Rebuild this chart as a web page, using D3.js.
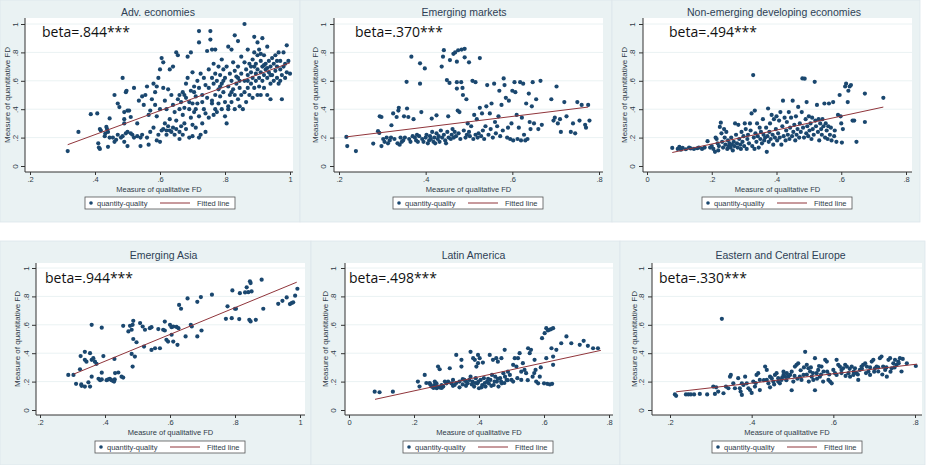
<!DOCTYPE html>
<html>
<head>
<meta charset="utf-8">
<script src="https://cdn.jsdelivr.net/npm/d3@7/dist/d3.min.js"></script>
<style>
body { margin:0; background:#fff; }
svg { display:block; font-family:"Liberation Sans", Arial, sans-serif; }
</style>
</head>
<body>
<div id="chart"></div>
<script>
// chart values
var titles = ["Adv. economies", "Emerging markets", "Non-emerging developing economies",
              "Emerging Asia", "Latin America", "Eastern and Central Europe"];
var betas = ["beta=.844***", "beta=.370***", "beta=.494***", "beta=.944***", "beta=.498***", "beta=.330***"];
var xDomains = [[0.2, 1], [0.2, 0.8], [0, 0.8], [0.2, 1], [0, 0.8], [0.2, 0.8]];
var xTicks = [[0.2, 0.4, 0.6, 0.8, 1], [0.2, 0.4, 0.6, 0.8], [0, 0.2, 0.4, 0.6, 0.8],
              [0.2, 0.4, 0.6, 0.8, 1], [0, 0.2, 0.4, 0.6, 0.8], [0.2, 0.4, 0.6, 0.8]];
var yTicks = [0, 0.2, 0.4, 0.6, 0.8, 1];
var xLabel = "Measure of qualitative FD";
var yLabel = "Measure of quantitative FD";
var legendLabels = ["quantity-quality", "Fitted line"];

// fitted line end points [x, y]
var fitLines = [
  [[0.316, 0.150], [1.0, 0.727]],
  [[0.217, 0.205], [0.775, 0.415]],
  [[0.078, 0.095], [0.730, 0.415]],
  [[0.303, 0.252], [0.990, 0.900]],
  [[0.080, 0.075], [0.775, 0.420]],
  [[0.215, 0.128], [0.805, 0.323]]
];

var advPts = [
  [0.316,0.105],[0.349,0.24],[0.387,0.365],[0.407,0.37],[0.41,0.16],[0.412,0.13],[0.415,0.12],[0.415,0.26],[0.418,0.25],[0.43,0.21],
  [0.432,0.23],[0.437,0.26],[0.44,0.24],[0.445,0.335],[0.44,0.135],[0.435,0.275],[0.445,0.2],
  [0.455,0.2],[0.46,0.5],[0.46,0.17],[0.465,0.185],[0.47,0.44],[0.475,0.415],[0.47,0.22],[0.48,0.2],[0.485,0.62],[0.49,0.3],
  [0.49,0.33],[0.495,0.52],[0.497,0.53],[0.49,0.38],[0.495,0.23],[0.5,0.14],[0.5,0.24],[0.5,0.39],[0.485,0.21],[0.49,0.17],
  [0.505,0.39],[0.51,0.345],[0.51,0.23],[0.515,0.22],[0.52,0.55],[0.52,0.2],[0.53,0.21],[0.53,0.3],[0.535,0.46],[0.54,0.14],
  [0.54,0.2],[0.545,0.49],[0.545,0.22],[0.55,0.43],
  [0.555,0.5],[0.56,0.56],[0.56,0.2],[0.565,0.36],[0.565,0.15],[0.57,0.39],[0.57,0.24],[0.575,0.47],[0.58,0.58],[0.58,0.27],
  [0.585,0.52],[0.585,0.43],[0.59,0.56],[0.59,0.35],[0.595,0.22],[0.595,0.62],[0.6,0.68],[0.6,0.4],[0.6,0.17],[0.59,0.18],
  [0.605,0.76],[0.61,0.73],[0.61,0.55],[0.615,0.46],[0.615,0.3],[0.62,0.22],[0.62,0.4],[0.625,0.54],[0.63,0.25],[0.63,0.68],
  [0.635,0.5],[0.635,0.24],[0.64,0.7],[0.64,0.27],[0.64,0.43],[0.645,0.38],[0.645,0.22],[0.65,0.8],[0.65,0.32],[0.65,0.26],
  [0.655,0.78],[0.655,0.47],[0.66,0.24],[0.66,0.19],[0.66,0.5],[0.605,0.25],[0.61,0.26],[0.62,0.25],[0.625,0.28],[0.63,0.33],
  [0.665,0.45],[0.67,0.52],[0.67,0.36],[0.67,0.22],[0.675,0.41],[0.675,0.3],[0.68,0.58],[0.68,0.48],[0.68,0.26],[0.685,0.77],
  [0.685,0.62],[0.69,0.4],[0.69,0.2],[0.695,0.8],[0.695,0.53],[0.695,0.34],[0.7,0.66],[0.7,0.44],[0.7,0.29],[0.7,0.21],
  [0.705,0.56],[0.66,0.4],[0.665,0.28],[0.69,0.45],[0.675,0.5],
  [0.705,0.38],[0.71,0.49],[0.71,0.27],[0.715,0.6],[0.715,0.44],[0.72,0.95],[0.72,0.87],[0.72,0.55],[0.72,0.35],[0.725,0.22],
  [0.725,0.65],[0.73,0.5],[0.73,0.3],[0.735,0.62],[0.735,0.4],[0.74,0.57],[0.74,0.37],[0.745,0.81],[0.745,0.48],[0.75,0.68],
  [0.75,0.34],[0.75,0.55],[0.73,0.45],[0.71,0.4],[0.74,0.24],[0.72,0.2],[0.705,0.52],
  [0.755,0.95],[0.755,0.89],[0.76,0.82],[0.76,0.62],[0.76,0.44],[0.765,0.72],[0.765,0.58],[0.765,0.36],[0.77,0.82],[0.77,0.65],
  [0.77,0.5],[0.775,0.6],[0.775,0.38],[0.78,0.7],[0.78,0.54],[0.78,0.44],[0.785,0.64],[0.785,0.49],[0.79,0.75],[0.79,0.58],
  [0.79,0.4],[0.795,0.68],[0.795,0.52],[0.8,0.62],[0.8,0.45],[0.8,0.35],[0.76,0.46],[0.77,0.4],[0.785,0.56],[0.795,0.6],
  [0.805,0.3],[0.805,0.7],[0.81,0.84],[0.81,0.56],[0.81,0.42],[0.815,0.65],[0.815,0.5],[0.82,0.82],[0.82,0.6],[0.82,0.45],
  [0.825,0.73],[0.825,0.54],[0.83,0.92],[0.83,0.67],[0.83,0.5],[0.83,0.4],[0.835,0.58],[0.84,0.88],[0.84,0.7],[0.84,0.62],
  [0.84,0.47],[0.845,0.55],[0.845,0.42],[0.85,0.77],[0.85,0.65],[0.85,0.5],[0.81,0.4],[0.82,0.52],[0.835,0.63],[0.845,0.6],
  [0.855,0.4],[0.86,1.0],[0.86,0.73],[0.86,0.6],[0.86,0.52],[0.865,0.68],[0.865,0.45],[0.87,0.82],[0.87,0.64],[0.87,0.55],
  [0.875,0.72],[0.875,0.5],[0.88,0.66],[0.88,0.58],[0.885,0.75],[0.885,0.62],[0.885,0.48],[0.89,0.91],[0.89,0.8],[0.89,0.7],
  [0.89,0.55],[0.895,0.65],[0.895,0.6],[0.9,0.87],[0.9,0.78],[0.9,0.68],[0.9,0.5],[0.87,0.6],[0.88,0.7],[0.895,0.72],
  [0.905,0.62],[0.905,0.56],[0.91,0.74],[0.91,0.66],[0.91,0.5],[0.915,0.9],[0.915,0.7],[0.915,0.6],[0.92,0.78],[0.92,0.64],
  [0.92,0.55],[0.925,0.72],[0.925,0.68],[0.93,0.84],[0.93,0.62],[0.93,0.5],[0.935,0.74],[0.935,0.66],[0.94,0.58],[0.94,0.7],
  [0.94,0.47],[0.945,0.76],[0.945,0.64],[0.95,0.72],[0.95,0.6],[0.91,0.79],[0.92,0.71],[0.93,0.69],[0.905,0.82],[0.94,0.64],
  [0.955,0.78],[0.955,0.67],[0.96,0.62],[0.96,0.7],[0.965,0.8],[0.965,0.58],[0.97,0.68],[0.97,0.74],[0.975,0.47],[0.975,0.64],
  [0.98,0.8],[0.98,0.7],[0.985,0.62],[0.99,0.85],[0.99,0.66],[0.995,0.74],[1.0,0.65],[0.96,0.74],[0.97,0.6],[0.985,0.72]
];

var emPts = [
  [0.217,0.205],[0.219,0.14],[0.239,0.105],[0.279,0.158],[0.29,0.245],[0.293,0.233],[0.294,0.35],[0.298,0.345],[0.298,0.14],[0.302,0.19],
  [0.305,0.17],[0.31,0.2],[0.313,0.16],[0.317,0.18],[0.32,0.2],[0.321,0.287],[0.325,0.37],[0.328,0.19],[0.333,0.345],[0.335,0.16],
  [0.337,0.39],[0.338,0.41],[0.34,0.15],[0.342,0.2],[0.345,0.17],[0.348,0.18],[0.35,0.35],[0.352,0.2],[0.356,0.593],[0.357,0.405],
  [0.36,0.345],[0.362,0.19],[0.365,0.17],[0.367,0.77],[0.37,0.21],[0.372,0.33],[0.375,0.2],[0.378,0.18],[0.38,0.22],[0.382,0.17],
  [0.385,0.21],[0.387,0.723],[0.387,0.58],[0.39,0.38],[0.392,0.19],[0.395,0.17],[0.398,0.687],[0.4,0.2],[0.402,0.22],[0.405,0.16],
  [0.408,0.18],[0.41,0.21],[0.412,0.19],[0.414,0.334],[0.415,0.24],[0.418,0.17],[0.42,0.2],[0.422,0.16],[0.425,0.357],[0.425,0.23],
  [0.428,0.19],[0.43,0.21],[0.432,0.17],[0.435,0.25],[0.437,0.7],[0.438,0.2],[0.44,0.77],[0.442,0.816],[0.442,0.22],[0.445,0.18],
  [0.447,0.16],[0.449,0.605],[0.45,0.24],[0.452,0.35],[0.453,0.2],[0.455,0.585],[0.456,0.746],[0.458,0.19],[0.46,0.22],[0.462,0.26],
  [0.464,0.79],[0.465,0.2],[0.467,0.24],[0.468,0.8],[0.47,0.21],[0.472,0.735],[0.472,0.59],[0.472,0.545],[0.474,0.39],[0.475,0.815],
  [0.476,0.23],[0.478,0.38],[0.48,0.19],[0.482,0.59],[0.483,0.82],[0.485,0.55],[0.486,0.5],[0.488,0.25],[0.49,0.825],[0.49,0.765],
  [0.492,0.2],[0.494,0.47],[0.495,0.22],[0.497,0.3],[0.5,0.73],[0.5,0.24],[0.502,0.21],[0.505,0.28],[0.508,0.6],[0.51,0.19],
  [0.512,0.36],[0.515,0.59],[0.515,0.22],[0.518,0.33],[0.52,0.2],[0.522,0.23],[0.525,0.76],[0.525,0.41],[0.528,0.21],[0.53,0.37],
  [0.532,0.25],[0.535,0.19],[0.538,0.28],[0.54,0.42],[0.542,0.57],[0.545,0.22],[0.548,0.37],[0.55,0.26],[0.552,0.44],[0.555,0.2],
  [0.558,0.58],[0.56,0.31],[0.562,0.23],[0.565,0.28],[0.568,0.35],[0.57,0.53],[0.572,0.21],[0.575,0.43],[0.578,0.25],[0.58,0.617],
  [0.582,0.57],[0.585,0.48],[0.588,0.2],[0.59,0.27],[0.592,0.46],[0.595,0.19],[0.598,0.3],[0.6,0.53],[0.602,0.18],[0.605,0.59],
  [0.607,0.52],[0.61,0.36],[0.612,0.19],[0.615,0.27],[0.618,0.59],[0.62,0.18],[0.622,0.34],[0.625,0.58],[0.627,0.22],[0.63,0.18],
  [0.632,0.44],[0.635,0.19],[0.638,0.51],[0.64,0.31],[0.642,0.26],[0.645,0.42],[0.647,0.59],[0.65,0.3],[0.655,0.47],[0.66,0.26],
  [0.665,0.6],[0.668,0.29],[0.69,0.47],[0.695,0.32],[0.698,0.34],[0.702,0.56],[0.705,0.3],[0.71,0.33],[0.712,0.24],[0.72,0.45],
  [0.725,0.35],[0.735,0.24],[0.74,0.3],[0.745,0.23],[0.75,0.45],[0.755,0.32],[0.76,0.43],[0.768,0.29],[0.77,0.27],[0.775,0.43],
  [0.778,0.32]
];

var nedPts = [
  [0.078,0.127],[0.095,0.12],[0.1,0.135],[0.105,0.115],[0.11,0.128],[0.12,0.118],[0.13,0.13],[0.135,0.124],[0.145,0.12],[0.155,0.125],
  [0.16,0.13],[0.17,0.12],[0.178,0.13],[0.187,0.175],[0.195,0.13],[0.2,0.14],[0.205,0.12],[0.21,0.1],[0.212,0.2],[0.215,0.19],
  [0.218,0.16],[0.22,0.11],[0.222,0.14],[0.225,0.275],[0.228,0.305],[0.23,0.23],[0.232,0.17],[0.235,0.13],[0.238,0.26],[0.24,0.2],
  [0.242,0.15],[0.245,0.24],[0.248,0.12],[0.25,0.18],[0.252,0.14],[0.255,0.16],[0.258,0.13],[0.26,0.2],[0.262,0.15],[0.265,0.11],
  [0.268,0.17],[0.27,0.14],[0.272,0.3],[0.275,0.22],[0.278,0.16],[0.28,0.13],[0.282,0.29],[0.285,0.19],[0.288,0.15],[0.29,0.12],
  [0.292,0.24],[0.295,0.17],[0.298,0.21],[0.3,0.14],[0.302,0.3],[0.305,0.26],[0.308,0.12],[0.31,0.19],[0.312,0.22],[0.315,0.16],
  [0.318,0.3],[0.32,0.25],[0.323,0.37],[0.325,0.14],[0.328,0.64],[0.33,0.2],[0.332,0.12],[0.333,0.39],[0.335,0.23],[0.338,0.17],
  [0.34,0.3],[0.342,0.21],[0.345,0.13],[0.348,0.27],[0.35,0.19],[0.352,0.24],[0.355,0.16],[0.358,0.33],[0.36,0.22],[0.362,0.18],
  [0.365,0.2],[0.368,0.27],[0.37,0.1],[0.372,0.21],[0.374,0.405],[0.376,0.17],[0.378,0.24],[0.38,0.3],[0.382,0.19],[0.385,0.36],
  [0.388,0.22],[0.39,0.15],[0.392,0.33],[0.395,0.2],[0.398,0.26],[0.4,0.35],[0.402,0.18],[0.405,0.23],[0.408,0.32],[0.41,0.2],
  [0.412,0.38],[0.415,0.15],[0.418,0.28],[0.42,0.46],[0.422,0.21],[0.425,0.34],[0.428,0.18],[0.43,0.25],[0.432,0.31],[0.435,0.22],
  [0.438,0.38],[0.44,0.19],[0.442,0.27],[0.445,0.34],[0.448,0.21],[0.45,0.46],[0.452,0.24],[0.455,0.29],[0.458,0.18],[0.46,0.35],
  [0.462,0.22],[0.465,0.26],[0.467,0.416],[0.47,0.2],[0.472,0.3],[0.475,0.24],[0.478,0.38],[0.48,0.617],[0.482,0.27],[0.485,0.2],
  [0.487,0.615],[0.49,0.33],[0.492,0.23],[0.493,0.45],[0.495,0.28],[0.498,0.21],[0.5,0.35],[0.502,0.25],[0.505,0.3],[0.508,0.19],
  [0.51,0.34],[0.512,0.26],[0.515,0.22],[0.518,0.593],[0.52,0.32],[0.522,0.28],[0.525,0.43],[0.528,0.24],[0.53,0.33],[0.532,0.18],
  [0.535,0.3],[0.538,0.26],[0.54,0.22],[0.542,0.33],[0.545,0.28],[0.548,0.44],[0.55,0.2],[0.552,0.3],[0.555,0.25],[0.558,0.19],
  [0.56,0.28],[0.562,0.44],[0.565,0.22],[0.568,0.27],[0.57,0.18],[0.575,0.45],[0.578,0.21],[0.58,0.25],[0.585,0.17],[0.59,0.36],
  [0.595,0.5],[0.598,0.35],[0.6,0.3],[0.602,0.165],[0.605,0.26],[0.612,0.56],[0.615,0.58],[0.62,0.45],[0.622,0.53],[0.626,0.56],
  [0.63,0.57],[0.635,0.32],[0.64,0.32],[0.647,0.17],[0.673,0.51],[0.673,0.31],[0.73,0.48]
];

var asiaPts = [
  [0.287,0.247],[0.303,0.247],[0.311,0.184],[0.325,0.38],[0.323,0.287],[0.327,0.18],[0.328,0.17],[0.338,0.41],[0.338,0.353],[0.343,0.34],
  [0.338,0.165],[0.349,0.195],[0.354,0.165],[0.354,0.4],[0.359,0.6],[0.359,0.353],[0.364,0.365],[0.369,0.34],[0.359,0.235],[0.374,0.325],
  [0.38,0.22],[0.385,0.21],[0.39,0.215],[0.39,0.58],[0.39,0.263],[0.395,0.38],[0.405,0.21],[0.41,0.215],[0.415,0.22],[0.42,0.21],
  [0.425,0.205],[0.43,0.215],[0.428,0.2],[0.429,0.36],[0.431,0.26],[0.441,0.264],[0.451,0.235],[0.456,0.228],[0.456,0.593],[0.472,0.553],
  [0.477,0.593],[0.482,0.565],[0.485,0.6],[0.482,0.395],[0.487,0.628],[0.487,0.5],[0.492,0.376],[0.485,0.306],[0.497,0.477],[0.508,0.612],
  [0.516,0.588],[0.523,0.565],[0.52,0.447],[0.538,0.576],[0.543,0.583],[0.543,0.423],[0.554,0.435],[0.564,0.57],[0.569,0.435],[0.579,0.565],
  [0.584,0.623],[0.584,0.56],[0.589,0.494],[0.594,0.482],[0.6,0.6],[0.605,0.583],[0.61,0.588],[0.605,0.53],[0.61,0.482],[0.62,0.585],
  [0.626,0.576],[0.623,0.459],[0.628,0.74],[0.634,0.713],[0.648,0.518],[0.654,0.786],[0.664,0.6],[0.667,0.588],[0.684,0.762],[0.684,0.518],
  [0.695,0.795],[0.697,0.56],[0.729,0.812],[0.772,0.642],[0.777,0.73],[0.79,0.647],[0.792,0.842],[0.8,0.713],[0.803,0.713],[0.813,0.64],
  [0.815,0.823],[0.831,0.828],[0.836,0.864],[0.841,0.83],[0.846,0.906],[0.848,0.894],[0.851,0.835],[0.844,0.635],[0.848,0.624],[0.864,0.635],
  [0.882,0.918],[0.887,0.713],[0.933,0.748],[0.946,0.769],[0.959,0.793],[0.969,0.746],[0.974,0.753],[0.979,0.758],[0.985,0.805],[0.992,0.854]
];

var latamPts = [
  [0.079,0.129],[0.094,0.125],[0.135,0.129],[0.212,0.2],[0.217,0.165],[0.233,0.247],[0.238,0.19],[0.248,0.19],[0.254,0.165],[0.262,0.176],
  [0.266,0.165],[0.27,0.153],[0.275,0.165],[0.28,0.158],[0.285,0.176],[0.29,0.165],[0.274,0.306],[0.279,0.287],[0.264,0.2],[0.269,0.188],
  [0.31,0.294],[0.3,0.188],[0.305,0.2],[0.315,0.188],[0.32,0.212],[0.325,0.176],[0.33,0.388],[0.346,0.306],[0.346,0.353],[0.34,0.2],
  [0.35,0.217],[0.355,0.212],[0.36,0.2],[0.365,0.188],[0.37,0.212],[0.374,0.235],[0.374,0.41],[0.382,0.365],[0.387,0.353],[0.392,0.306],
  [0.397,0.33],[0.397,0.388],[0.402,0.365],[0.38,0.2],[0.385,0.165],[0.39,0.224],[0.395,0.188],[0.4,0.153],[0.405,0.212],[0.41,0.176],
  [0.415,0.224],[0.42,0.165],[0.412,0.334],[0.425,0.2],[0.43,0.188],[0.433,0.388],[0.435,0.212],[0.44,0.247],[0.443,0.353],[0.445,0.176],
  [0.45,0.235],[0.453,0.365],[0.455,0.2],[0.458,0.34],[0.46,0.165],[0.465,0.224],[0.469,0.365],[0.47,0.188],[0.475,0.259],[0.479,0.424],
  [0.48,0.235],[0.485,0.212],[0.489,0.27],[0.495,0.247],[0.5,0.212],[0.505,0.318],[0.505,0.2],[0.51,0.365],[0.515,0.306],[0.518,0.224],
  [0.52,0.365],[0.525,0.4],[0.53,0.212],[0.535,0.33],[0.54,0.282],[0.545,0.259],[0.551,0.435],[0.556,0.4],[0.56,0.424],[0.565,0.235],
  [0.571,0.353],[0.574,0.282],[0.576,0.2],[0.582,0.188],[0.587,0.235],[0.594,0.506],[0.602,0.541],[0.607,0.576],[0.607,0.365],[0.612,0.56],
  [0.617,0.565],[0.622,0.57],[0.628,0.576],[0.6,0.188],[0.61,0.184],[0.618,0.18],[0.625,0.184],[0.623,0.435],[0.628,0.376],[0.628,0.318],
  [0.638,0.424],[0.653,0.47],[0.669,0.518],[0.684,0.47],[0.71,0.459],[0.722,0.487],[0.735,0.452],[0.751,0.435],[0.766,0.435],
  [0.378,0.18],[0.388,0.19],[0.398,0.2],[0.408,0.16],[0.418,0.19],[0.428,0.22],[0.438,0.17],[0.448,0.2],[0.458,0.22],[0.468,0.2],
  [0.478,0.19],[0.488,0.21],[0.36,0.17],[0.35,0.18],[0.34,0.16],[0.33,0.19],[0.32,0.17],[0.295,0.2],[0.285,0.155],[0.26,0.155],
  [0.25,0.18],[0.53,0.27],[0.55,0.21],[0.57,0.26],[0.59,0.3]
];

var ecePts = [
  [0.212,0.11],[0.215,0.1],[0.239,0.11],[0.245,0.11],[0.251,0.11],[0.259,0.11],[0.273,0.113],[0.291,0.11],[0.306,0.165],[0.313,0.16],
  [0.31,0.113],[0.318,0.13],[0.327,0.642],[0.331,0.118],[0.337,0.165],[0.343,0.153],[0.347,0.235],[0.349,0.247],[0.355,0.188],[0.359,0.153],
  [0.367,0.224],[0.371,0.153],[0.373,0.13],[0.376,0.106],[0.376,0.188],[0.38,0.176],[0.384,0.235],[0.388,0.188],[0.392,0.153],[0.396,0.141],
  [0.404,0.2],[0.408,0.165],[0.412,0.247],[0.416,0.259],[0.42,0.212],[0.433,0.306],[0.437,0.282],[0.437,0.212],[0.441,0.188],[0.445,0.235],
  [0.449,0.224],[0.453,0.2],[0.457,0.247],[0.461,0.259],[0.465,0.224],[0.469,0.188],[0.473,0.212],[0.478,0.247],[0.482,0.235],[0.478,0.27],
  [0.486,0.259],[0.49,0.235],[0.494,0.247],[0.498,0.27],[0.502,0.2],[0.498,0.139],[0.506,0.306],[0.51,0.318],[0.514,0.329],[0.518,0.235],
  [0.522,0.212],[0.527,0.247],[0.531,0.41],[0.535,0.318],[0.539,0.294],[0.543,0.271],[0.547,0.235],[0.551,0.212],[0.555,0.365],[0.555,0.139],
  [0.559,0.259],[0.563,0.282],[0.567,0.235],[0.571,0.306],[0.576,0.271],[0.58,0.353],[0.584,0.341],[0.588,0.212],[0.592,0.2],[0.596,0.188],
  [0.6,0.282],[0.604,0.259],[0.608,0.247],[0.608,0.353],[0.612,0.318],[0.616,0.306],[0.62,0.282],[0.624,0.294],[0.629,0.318],[0.633,0.306],
  [0.637,0.259],[0.641,0.235],[0.645,0.306],[0.649,0.247],[0.653,0.294],[0.657,0.259],[0.661,0.212],[0.665,0.282],[0.669,0.306],[0.673,0.318],
  [0.678,0.329],[0.682,0.306],[0.686,0.271],[0.69,0.247],[0.694,0.341],[0.698,0.353],[0.702,0.294],[0.706,0.306],[0.71,0.271],[0.714,0.365],
  [0.718,0.376],[0.722,0.306],[0.727,0.282],[0.731,0.235],[0.735,0.353],[0.739,0.365],[0.743,0.294],[0.747,0.329],[0.751,0.353],[0.755,0.318],
  [0.759,0.341],[0.763,0.365],[0.767,0.271],[0.78,0.329],[0.802,0.31],
  [0.505,0.24],[0.512,0.22],[0.52,0.28],[0.528,0.3],[0.535,0.25],[0.54,0.2],[0.545,0.3],[0.55,0.26],[0.56,0.22],[0.565,0.31],
  [0.57,0.25],[0.575,0.2],[0.585,0.27],[0.59,0.25],[0.62,0.26],[0.63,0.24],[0.64,0.29],[0.65,0.27],[0.66,0.25],[0.67,0.29],
  [0.68,0.26],[0.69,0.3],[0.7,0.27],[0.71,0.3],[0.72,0.25],[0.73,0.3],[0.74,0.27],[0.75,0.3],[0.76,0.33],[0.77,0.36],
  [0.465,0.2],[0.475,0.23],[0.485,0.21],[0.455,0.18],[0.445,0.16],[0.43,0.21],[0.42,0.14],[0.41,0.19],[0.4,0.12]
];

var seriesPts = [advPts, emPts, nedPts, asiaPts, latamPts, ecePts];

// panel layout (pixels)
var panels = [
  {bx:0,   by:0,   bw:300, bh:222, l:25,  r:293, t:18,  b:172, xr:[30,290],  yr:[166,24],  titleY:16,  betaX:42,  betaY:37,  legX:85,  legY:197, yTickX:16,  yTitleX:7,   xTickY:182, xTitleY:192},
  {bx:300, by:0,   bw:312, bh:222, l:334, r:603, t:18,  b:172, xr:[339,599], yr:[166,24],  titleY:16,  betaX:355, betaY:37,  legX:393, legY:197, yTickX:324, yTitleX:315, xTickY:182, xTitleY:192},
  {bx:612, by:0,   bw:308, bh:222, l:643, r:912, t:18,  b:172, xr:[647,906], yr:[166,24],  titleY:16,  betaX:669, betaY:37,  legX:702, legY:197, yTickX:633, yTitleX:624, xTickY:182, xTitleY:192},
  {bx:0,   by:241, bw:311, bh:224, l:36,  r:305, t:263, b:415, xr:[40,300],  yr:[410,268], titleY:259, betaX:45,  betaY:283, legX:95,  legY:441, yTickX:27,  yTitleX:17,  xTickY:425, xTitleY:435},
  {bx:311, by:241, bw:309, bh:224, l:345, r:613, t:263, b:415, xr:[349,609], yr:[410,268], titleY:259, betaX:349, betaY:283, legX:403, legY:441, yTickX:334, yTitleX:325, xTickY:425, xTitleY:435},
  {bx:620, by:241, bw:305, bh:224, l:652, r:922, t:263, b:415, xr:[670,915], yr:[410,268], titleY:259, betaX:659, betaY:283, legX:712, legY:441, yTickX:642, yTitleX:634, xTickY:425, xTitleY:435}
];

var bgColor = "#eaf2f3",
    dotColor = "#1a476f",
    fitColor = "#90353b",
    textColor = "#2f3b48";

function fmt(d) {
  if (d === 0) return "0";
  if (d === 1) return "1";
  return String(d).replace(/^0/, "");
}

var svg = d3.select("#chart").append("svg")
    .attr("width", 934)
    .attr("height", 465);

svg.append("rect").attr("width", 934).attr("height", 465).attr("fill", "#fff");

panels.forEach(function(p, i) {
  var g = svg.append("g");
  var x = d3.scaleLinear().domain(xDomains[i]).range(p.xr);
  var y = d3.scaleLinear().domain([0, 1]).range(p.yr);

  g.append("rect")
    .attr("x", p.bx).attr("y", p.by)
    .attr("width", p.bw).attr("height", p.bh)
    .attr("fill", bgColor)
    .attr("stroke", "#dde7ea")
    .attr("stroke-width", 0.8);

  g.append("rect")
    .attr("x", p.l).attr("y", p.t)
    .attr("width", p.r - p.l).attr("height", p.b - p.t)
    .attr("fill", "#fff");

  // gridlines
  g.selectAll(".grid").data(yTicks.slice(1)).enter().append("line")
    .attr("x1", p.l).attr("x2", p.r)
    .attr("y1", function(d) { return y(d); })
    .attr("y2", function(d) { return y(d); })
    .attr("stroke", bgColor)
    .attr("stroke-width", 1);

  // title
  g.append("text")
    .attr("x", p.bx + p.bw / 2 + 8).attr("y", p.titleY)
    .attr("text-anchor", "middle")
    .attr("font-size", "10.5px")
    .attr("fill", "#2e3f55")
    .text(titles[i]);

  // axes
  var yAxis = d3.axisLeft(y).tickValues(yTicks).tickSize(4).tickFormat(fmt);
  var ya = g.append("g").attr("transform", "translate(" + p.l + ",0)").call(yAxis);
  ya.select(".domain").attr("stroke", "#333").attr("d", "M0," + p.b + "V" + p.t);
  ya.selectAll(".tick line").attr("stroke", "#333");
  ya.selectAll(".tick text")
    .attr("x", null).attr("dy", null)
    .attr("transform", "translate(" + (p.yTickX - p.l + 2) + ",0) rotate(-90)")
    .attr("text-anchor", "middle")
    .attr("font-size", "8px")
    .attr("fill", textColor);

  var xAxis = d3.axisBottom(x).tickValues(xTicks[i]).tickSize(3).tickFormat(fmt);
  var xa = g.append("g").attr("transform", "translate(0," + p.b + ")").call(xAxis);
  xa.select(".domain").attr("stroke", "#333").attr("d", "M" + p.l + ",0H" + p.r);
  xa.selectAll(".tick line").attr("stroke", "#333");
  xa.selectAll(".tick text")
    .attr("y", p.xTickY - p.b).attr("dy", null)
    .attr("font-size", "7.5px")
    .attr("fill", textColor);

  g.append("text")
    .attr("x", (p.l + p.r) / 2).attr("y", p.xTitleY)
    .attr("text-anchor", "middle")
    .attr("font-size", "7.5px")
    .attr("fill", textColor)
    .text(xLabel);

  g.append("text")
    .attr("transform", "translate(" + (p.yTitleX + 3) + "," + ((p.t + p.b) / 2) + ") rotate(-90)")
    .attr("text-anchor", "middle")
    .attr("font-size", "8px")
    .attr("fill", textColor)
    .text(yLabel);

  // points
  g.selectAll(".pt").data(seriesPts[i]).enter().append("circle")
    .attr("cx", function(d) { return x(d[0]); })
    .attr("cy", function(d) { return y(d[1]); })
    .attr("r", 2.1)
    .attr("fill", dotColor);

  // fitted line
  g.append("path")
    .datum(fitLines[i])
    .attr("d", d3.line().x(function(d) { return x(d[0]); }).y(function(d) { return y(d[1]); }))
    .attr("fill", "none")
    .attr("stroke", fitColor)
    .attr("stroke-width", 1);

  // beta label
  g.append("text")
    .attr("x", p.betaX).attr("y", p.betaY)
    .attr("font-family", "'Open Sans', Lato, sans-serif")
    .attr("font-size", "14px")
    .attr("fill", "#111")
    .text(betas[i]);

  // legend
  var lg = g.append("g").attr("transform", "translate(" + p.legX + "," + p.legY + ")");
  lg.append("rect").attr("width", 150).attr("height", 12)
    .attr("fill", "#fff").attr("stroke", "#555").attr("stroke-width", 0.8);
  lg.append("circle").attr("cx", 6).attr("cy", 6).attr("r", 1.8).attr("fill", dotColor);
  lg.append("text").attr("x", 12).attr("y", 8.6)
    .attr("font-size", "7.5px").attr("fill", textColor).text(legendLabels[0]);
  lg.append("line").attr("x1", 75).attr("x2", 105).attr("y1", 6).attr("y2", 6)
    .attr("stroke", fitColor).attr("stroke-width", 1);
  lg.append("text").attr("x", 112).attr("y", 8.6)
    .attr("font-size", "7.5px").attr("fill", textColor).text(legendLabels[1]);
});
</script>
</body>
</html>
